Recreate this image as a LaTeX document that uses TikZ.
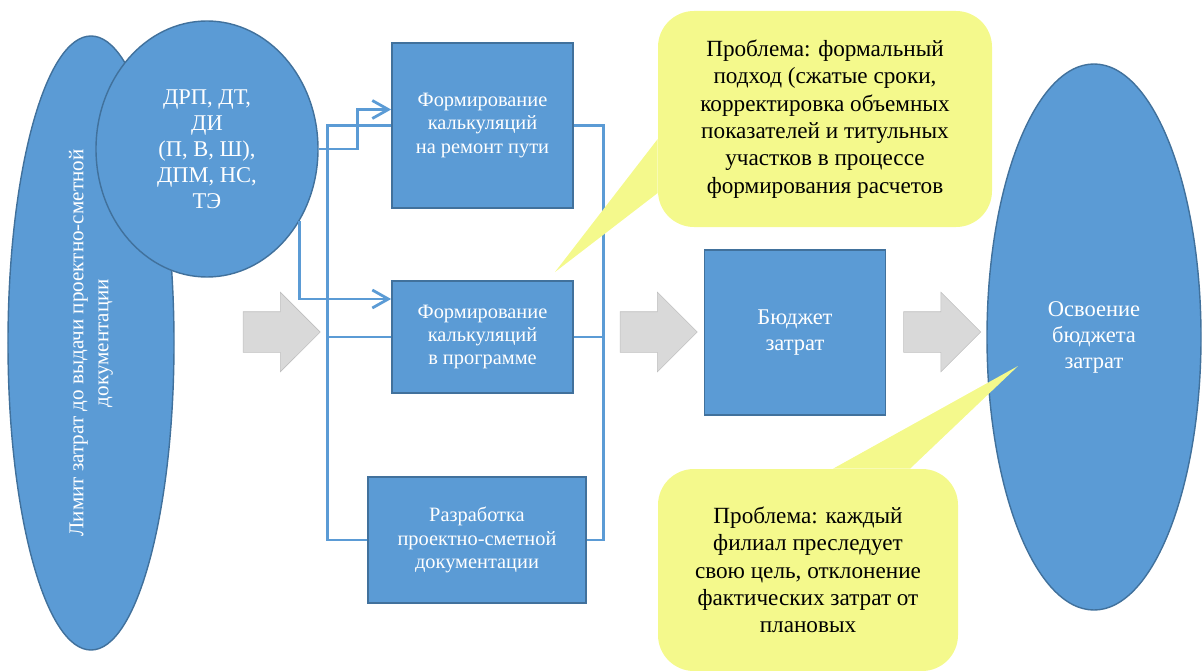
\documentclass[tikz,border=0pt]{standalone}
\usepackage{fontspec}
\setmainfont{Liberation Serif}
\usetikzlibrary{calc,shapes.geometric,shapes.arrows,arrows.meta,positioning}
\definecolor{boxblue}{RGB}{91,155,213}
\definecolor{boxedge}{RGB}{65,113,156}
\definecolor{noteyellow}{RGB}{244,249,140}
\definecolor{arrowgray}{RGB}{217,217,217}
\definecolor{arrowedge}{RGB}{191,191,191}
\tikzset{
    block/.style={rectangle, draw=boxedge, fill=boxblue, line width=1.2pt, text=white, align=center, inner sep=0pt, font=\fontsize{14.5}{16.6}\selectfont},
    blob/.style={ellipse, draw=boxedge, fill=boxblue, line width=1pt, text=white, align=center, inner sep=0pt, font=\fontsize{16}{18.5}\selectfont},
    note/.style={rectangle, rounded corners=9mm, fill=noteyellow, align=center, inner sep=0pt, font=\fontsize{16.5}{19.4}\selectfont},
    flow/.style={single arrow, draw=arrowedge, fill=arrowgray, minimum height=19.25mm, inner xsep=0pt, inner ysep=5mm, single arrow head extend=4.875mm},
    link/.style={draw=boxblue, line width=2pt},
    feed/.style={link, -{Straight Barb[length=4mm, width=4.5mm]}}
}

\begin{document}
\begin{tikzpicture}[x=0.25mm, y=-0.25mm]
    \useasboundingbox (0,0) rectangle (1203,671);

    % Nodes
    \node[blob, rotate=90, minimum width=153.5mm, minimum height=41.5mm, font=\fontsize{15}{17.8}\selectfont] (limit) at (91,343) {Лимит затрат до выдачи проектно-сметной\\документации};
    \node[blob, minimum width=55.5mm, minimum height=64mm] (sources) at (207,149) {ДРП, ДТ,\\ДИ\\(П, В, Ш),\\ДПМ, НС,\\ТЭ};

    \node[block, minimum width=45.25mm, minimum height=41.25mm] (calcRepair) at (482.5,125.5) {Формирование\\калькуляций\\на ремонт пути};
    \node[block, minimum width=45.25mm, minimum height=28mm] (calcProg) at (482.5,337) {Формирование\\калькуляций\\в программе};
    \node[block, minimum width=54.5mm, minimum height=31.5mm] (pdDev) at (477,540) {Разработка\\проектно-сметной\\документации};
    \node[block, minimum width=45.25mm, minimum height=41.25mm, font=\fontsize{16}{18.5}\selectfont] (budget) at (795,332.5) {Бюджет\\затрат};
    \node[blob, minimum width=53.5mm, minimum height=136.5mm] (budgetUse) at (1094,337) {Освоение\\бюджета\\затрат};

    \node[flow] (arrA) at (271.5,332) {};
    \node[flow] (arrB) at (648.5,332) {};
    \node[flow] (arrC) at (932,332) {};

    % edges
    \draw[link] (pdDev.west) -- ++(-40,0) |- (calcRepair.west);
    \draw[link] (calcProg.west) -- ++(-65,0);
    \draw[link] (pdDev.east) -- ++(17,0) |- (calcRepair.east);
    \draw[link] (calcProg.east) -- ++(30,0);
    \draw[feed] (sources.east) -- ++(39,0) |- ($(calcRepair.west)+(0,-16)$);
    \draw[feed] (sources.-38.6) |- ($(calcProg.west)+(0,-38)$);

    % problems
    \coordinate (tipA) at (555,272);
    \coordinate (tipB) at (1018,366);
    \node[note, minimum width=83.5mm, minimum height=54mm] (probA) at (825,119) {Проблема: формальный\\подход (сжатые сроки,\\корректировка объемных\\показателей  и титульных\\участков в процессе\\формирования расчетов};
    \fill[noteyellow] ($(probA.west)+(0,20)$) -- (tipA) -- ($(probA.west)+(0,74)$) -- cycle;
    \node[note, minimum width=75mm, minimum height=50.5mm] (probB) at (808,570) {Проблема: каждый\\филиал преследует\\свою цель, отклонение\\фактических  затрат от\\плановых};
    \fill[noteyellow] ($(probB.north)+(25,0)$) -- (tipB) -- ($(probB.north)+(102,0)$) -- cycle;
\end{tikzpicture}
\end{document}
